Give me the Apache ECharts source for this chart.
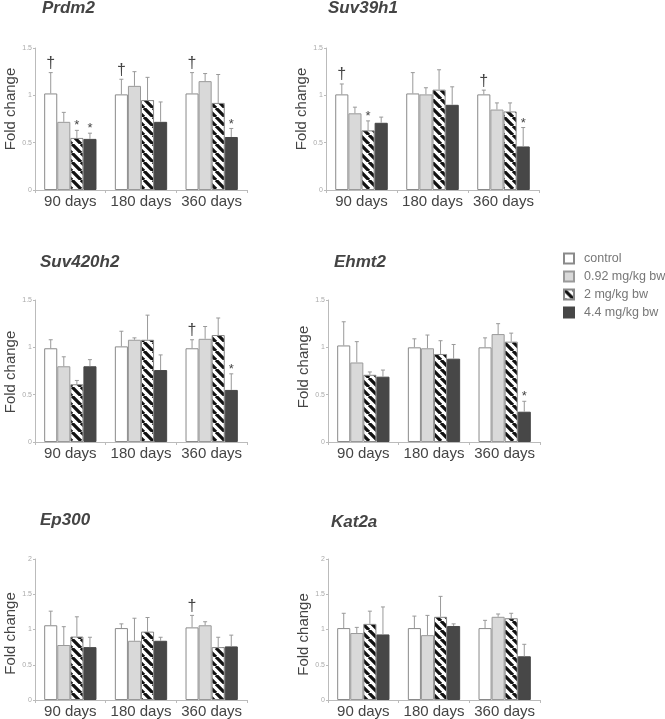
<!DOCTYPE html>
<html>
<head>
<meta charset="utf-8">
<script src="https://cdn.jsdelivr.net/npm/echarts@6/dist/echarts.min.js"></script>
<style>
  html, body { margin: 0; padding: 0; background: #fff; }
  #chart { width: 665px; height: 719px; }
</style>
</head>
<body>
<div id="chart"></div>
<script>
// categories and groups
const categories = ['90 days', '180 days', '360 days'];
const doses = ['control', '0.92 mg/kg bw', '2 mg/kg bw', '4.4 mg/kg bw'];
const genes = ['Prdm2', 'Suv39h1', 'Suv420h2', 'Ehmt2', 'Ep300', 'Kat2a'];
const yMaxes = [1.5, 1.5, 1.5, 1.5, 2, 2];

// mean fold change, one row per dose (control, 0.92, 2, 4.4), one column per time point
const prdm2Mean   = [[1.02, 1.01, 1.02], [0.72, 1.10, 1.15], [0.55, 0.95, 0.92], [0.54, 0.72, 0.56]];
const suv39h1Mean = [[1.01, 1.02, 1.01], [0.81, 1.01, 0.85], [0.63, 1.06, 0.83], [0.71, 0.90, 0.46]];
const suv420h2Mean= [[0.99, 1.01, 0.99], [0.80, 1.08, 1.09], [0.61, 1.08, 1.13], [0.80, 0.76, 0.55]];
const ehmt2Mean   = [[1.02, 1.00, 1.00], [0.84, 0.99, 1.14], [0.71, 0.93, 1.06], [0.69, 0.88, 0.32]];
const ep300Mean   = [[1.06, 1.02, 1.03], [0.78, 0.84, 1.06], [0.90, 0.97, 0.75], [0.75, 0.84, 0.76]];
const kat2aMean   = [[1.02, 1.02, 1.02], [0.95, 0.92, 1.18], [1.08, 1.18, 1.16], [0.93, 1.05, 0.62]];

// top of the error bars (mean + error)
const prdm2Top    = [[1.24, 1.17, 1.24], [0.82, 1.25, 1.23], [0.63, 1.19, 1.22], [0.60, 0.93, 0.65]];
const suv39h1Top  = [[1.12, 1.24, 1.055], [0.875, 1.08, 0.92], [0.73, 1.27, 0.92], [0.77, 1.09, 0.66]];
const suv420h2Top = [[1.08, 1.17, 1.08], [0.90, 1.10, 1.22], [0.65, 1.34, 1.31], [0.87, 0.92, 0.72]];
const ehmt2Top    = [[1.27, 1.09, 1.10], [1.06, 1.13, 1.25], [0.74, 1.07, 1.15], [0.76, 1.03, 0.43]];
const ep300Top    = [[1.26, 1.08, 1.20], [1.04, 1.16, 1.11], [1.18, 1.17, 0.89], [0.89, 0.89, 0.92]];
const kat2aTop    = [[1.23, 1.19, 1.13], [1.03, 1.20, 1.22], [1.26, 1.47, 1.23], [1.32, 1.08, 0.79]];

// significance marks above the error bars
const prdm2Marks    = [['†', '†', '†'], ['', '', ''], ['*', '', ''], ['*', '', '*']];
const suv39h1Marks  = [['†', '', '†'], ['', '', ''], ['*', '', ''], ['', '', '*']];
const suv420h2Marks = [['', '', '†'], ['', '', ''], ['', '', ''], ['', '', '*']];
const ehmt2Marks    = [['', '', ''], ['', '', ''], ['', '', ''], ['', '', '*']];
const ep300Marks    = [['', '', '†'], ['', '', ''], ['', '', ''], ['', '', '']];
const kat2aMarks    = [['', '', ''], ['', '', ''], ['', '', ''], ['', '', '']];

const means = [prdm2Mean, suv39h1Mean, suv420h2Mean, ehmt2Mean, ep300Mean, kat2aMean];
const tops = [prdm2Top, suv39h1Top, suv420h2Top, ehmt2Top, ep300Top, kat2aTop];
const marks = [prdm2Marks, suv39h1Marks, suv420h2Marks, ehmt2Marks, ep300Marks, kat2aMarks];

const FONT = 'Liberation Sans, Arial, sans-serif';
const GAP = 0.26; // barCategoryGap

// diagonal hatch for the 2 mg/kg bw bars
function hatch() {
  const s = 9;
  const c = document.createElement('canvas');
  c.width = c.height = s;
  const g = c.getContext('2d');
  g.fillStyle = '#fff';
  g.fillRect(0, 0, s, s);
  g.strokeStyle = '#111';
  g.lineWidth = 3.3;
  g.beginPath();
  for (let o = -s; o <= s; o += s) {
    g.moveTo(o, 0);
    g.lineTo(o + s, s);
  }
  g.stroke();
  return c;
}

const doseStyles = [
  { color: '#fff', borderColor: '#8a8a8a', borderWidth: 1 },
  { color: '#d9d9d9', borderColor: '#9a9a9a', borderWidth: 1 },
  { color: { image: hatch(), repeat: 'repeat' }, borderColor: '#888', borderWidth: 1 },
  { color: '#474747', borderColor: '#474747', borderWidth: 1 }
];

const grids = [
  { left: 35, top: 48, width: 212, height: 142 },
  { left: 326, top: 48, width: 213, height: 142 },
  { left: 35, top: 300, width: 212, height: 142 },
  { left: 328, top: 300, width: 212, height: 142 },
  { left: 35, top: 559, width: 212, height: 142 },
  { left: 328, top: 559, width: 212, height: 142 }
];
const titlePos = [[42, 0], [328, 0], [40, 254], [334, 254], [40, 512], [331, 514]];
// shift of the "Fold change" label along the axis (positive = up)
const nameShift = [10, 10, -1, 4, -4, -5];

const option = {
  animation: false,
  backgroundColor: '#fff',
  textStyle: { fontFamily: FONT },
  title: genes.map((g, i) => ({
    text: g, left: titlePos[i][0], top: titlePos[i][1], padding: 0,
    textStyle: { fontSize: 17, fontWeight: 'bold', fontStyle: 'italic', color: '#444', fontFamily: FONT }
  })),
  legend: {
    data: doses,
    orient: 'vertical',
    left: 563, top: 252, padding: 0,
    itemWidth: 10, itemHeight: 10, itemGap: 5,
    icon: 'rect',
    textStyle: { fontSize: 12.5, color: '#777', fontFamily: FONT, padding: [0, 0, 0, 5] }
  },
  grid: grids,
  xAxis: genes.map((g, i) => ({
    type: 'category', gridIndex: i, data: categories,
    axisLine: { lineStyle: { color: '#bbb' } },
    axisTick: { show: true, length: 3, lineStyle: { color: '#bbb' } },
    axisLabel: { interval: 0, hideOverlap: false, fontSize: 15, color: '#444', margin: 4, fontFamily: FONT }
  })),
  yAxis: genes.map((g, i) => ({
    type: 'value', gridIndex: i, min: 0, max: yMaxes[i], interval: 0.5,
    name: 'Fold change', nameLocation: 'middle', nameRotate: 90, nameGap: 15,
    nameTextStyle: {
      fontSize: 15, color: '#444', fontFamily: FONT,
      padding: nameShift[i] > 0 ? [0, 0, 0, 2 * nameShift[i]] : [0, -2 * nameShift[i], 0, 0]
    },
    axisLine: { show: true, lineStyle: { color: '#bbb' } },
    axisTick: { show: true, length: 2, lineStyle: { color: '#bbb' } },
    axisLabel: { fontSize: 7, color: '#aaa', margin: 3 },
    splitLine: { show: false }
  })),
  series: []
};

genes.forEach((g, i) => {
  doses.forEach((d, k) => {
    option.series.push({
      name: d, type: 'bar', xAxisIndex: i, yAxisIndex: i,
      data: means[i][k],
      barGap: '0%', barCategoryGap: (GAP * 100) + '%',
      itemStyle: doseStyles[k]
    });
  });
  doses.forEach((d, k) => {
    const mk = marks[i][k];
    option.series.push({
      type: 'custom', xAxisIndex: i, yAxisIndex: i, clip: false, z: 5,
      data: categories.map((c, j) => [j, means[i][k][j], tops[i][k][j]]),
      renderItem: function (params, api) {
        const j = api.value(0);
        const band = api.size([1, 0])[0];
        const bw = band * (1 - GAP) / 4;
        const base = api.coord([j, api.value(1)]);
        const cx = base[0] + (k - 1.5) * bw;
        const y0 = base[1];
        const y1 = api.coord([j, api.value(2)])[1];
        const children = [
          { type: 'line', shape: { x1: cx, y1: y0, x2: cx, y2: y1 }, style: { stroke: '#999', lineWidth: 1 } },
          { type: 'line', shape: { x1: cx - 2, y1: y1, x2: cx + 2, y2: y1 }, style: { stroke: '#999', lineWidth: 1 } }
        ];
        const m = mk[params.dataIndex];
        if (m) {
          children.push({
            type: 'text',
            style: {
              text: m, x: cx, y: m === '†' ? y1 - 1 : y1 + 2,
              align: 'center', verticalAlign: 'bottom',
              fontSize: m === '†' ? 16 : 13, fontFamily: FONT, fill: '#444'
            }
          });
        }
        return { type: 'group', children: children };
      }
    });
  });
});

const chart = echarts.init(document.getElementById('chart'));
chart.setOption(option);
</script>
</body>
</html>
